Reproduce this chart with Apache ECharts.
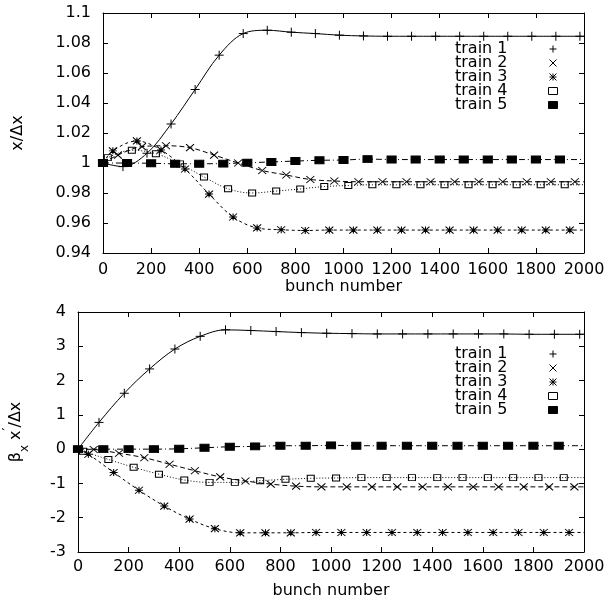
<!DOCTYPE html>
<html>
<head>
<meta charset="utf-8">
<script src="https://cdn.jsdelivr.net/npm/echarts@6/dist/echarts.min.js"></script>
<style>
    html, body { margin: 0; padding: 0; background: #fff; }
    #chart { width: 607px; height: 598px; }
</style>
</head>
<body>
<div id="chart"></div>
<script>
// ---- data ----
var trainNames = ['train 1', 'train 2', 'train 3', 'train 4', 'train 5'];

// tick labels
var bunchTicks = [0, 200, 400, 600, 800, 1000, 1200, 1400, 1600, 1800, 2000];
var topTicks = [0.94, 0.96, 0.98, 1, 1.02, 1.04, 1.06, 1.08, 1.1];
var bottomTicks = [-3, -2, -1, 0, 1, 2, 3, 4];

// bunch numbers where the markers sit (each train is shifted a bit)
var bunch1 = [83, 183, 283, 383, 483, 583, 683, 783, 883, 983, 1083, 1183, 1283, 1383, 1483, 1583, 1683, 1783, 1883, 1983];
var bunch2 = [62, 162, 262, 362, 462, 562, 662, 762, 862, 962, 1062, 1162, 1262, 1362, 1462, 1562, 1662, 1762, 1862, 1962];
var bunch3 = [41, 141, 241, 341, 441, 541, 641, 741, 841, 941, 1041, 1141, 1241, 1341, 1441, 1541, 1641, 1741, 1841, 1941];
var bunch4 = [20, 120, 220, 320, 420, 520, 620, 720, 820, 920, 1020, 1120, 1220, 1320, 1420, 1520, 1620, 1720, 1820, 1920];
var bunch5 = [0, 100, 200, 300, 400, 500, 600, 700, 800, 900, 1000, 1100, 1200, 1300, 1400, 1500, 1600, 1700, 1800, 1900];

// top panel: x / dx
var topStart = 1;
var top1 = [0.9976, 1.0065, 1.026, 1.049, 1.0719, 1.0863, 1.0885, 1.0872, 1.0863, 1.0852, 1.0847, 1.0845, 1.0845, 1.0845, 1.0845, 1.0845, 1.0845, 1.0845, 1.0845, 1.0845];
var top2 = [1.0053, 1.0109, 1.0115, 1.0102, 1.0053, 1.0, 0.995, 0.992, 0.989, 0.988, 0.9875, 0.9875, 0.9875, 0.9875, 0.9875, 0.9875, 0.9875, 0.9875, 0.9875, 0.9875];
var top3 = [1.0081, 1.0147, 1.0087, 0.996, 0.9793, 0.964, 0.9567, 0.9555, 0.955, 0.9553, 0.9553, 0.9553, 0.9553, 0.9553, 0.9553, 0.9553, 0.9553, 0.9553, 0.9553, 0.9553];
var top4 = [1.0036, 1.0085, 1.0062, 0.9994, 0.9907, 0.9828, 0.98, 0.9813, 0.9827, 0.9843, 0.985, 0.9855, 0.9855, 0.9855, 0.9855, 0.9855, 0.9855, 0.9855, 0.9855, 0.9855];
var top5 = [1.0, 1.0, 0.9998, 0.9995, 0.9995, 0.9996, 1.0002, 1.0007, 1.0013, 1.0018, 1.002, 1.0026, 1.0023, 1.0023, 1.0023, 1.0023, 1.0023, 1.0023, 1.0023, 1.0023];

// bottom panel: beta_x x' / dx
var bottomStart = 0;
var bottom1 = [0.78, 1.63, 2.34, 2.92, 3.29, 3.48, 3.46, 3.43, 3.40, 3.38, 3.37, 3.36, 3.36, 3.36, 3.36, 3.36, 3.36, 3.35, 3.35, 3.35];
var bottom2 = [-0.01, -0.12, -0.25, -0.44, -0.63, -0.81, -0.93, -1.02, -1.08, -1.1, -1.1, -1.1, -1.1, -1.1, -1.1, -1.1, -1.1, -1.1, -1.1, -1.1];
var bottom3 = [-0.15, -0.68, -1.2, -1.66, -2.04, -2.32, -2.44, -2.44, -2.44, -2.43, -2.43, -2.43, -2.43, -2.43, -2.43, -2.43, -2.43, -2.43, -2.43, -2.43];
var bottom4 = [-0.06, -0.3, -0.53, -0.73, -0.9, -0.97, -0.97, -0.92, -0.88, -0.85, -0.84, -0.83, -0.83, -0.83, -0.83, -0.83, -0.83, -0.83, -0.83, -0.83];
var bottom5 = [0, 0, 0, 0, 0.01, 0.04, 0.07, 0.08, 0.1, 0.1, 0.11, 0.1, 0.1, 0.1, 0.1, 0.1, 0.1, 0.1, 0.1, 0.1];

(function () {
    'use strict';

    var FONT = 'DejaVu Sans';
    var INK = '#000';

    // gnuplot style point types
    var marks = [
        { symbol: 'path://M0,5L10,5M5,0L5,10', size: [9, 9], fill: INK, dash: 'solid' },
        { symbol: 'path://M0,0L10,10M10,0L0,10', size: [8, 7], fill: INK, dash: [5, 3] },
        { symbol: 'path://M0,0L10,10M10,0L0,10M0,5L10,5M5,0L5,10', size: [8, 7], fill: INK, dash: [3, 3] },
        { symbol: 'rect', size: [7, 6], fill: 'none', dash: [1, 2] },
        { symbol: 'rect', size: [9, 7], fill: INK, dash: [6, 3, 1, 3] }
    ];
    var bunches = [bunch1, bunch2, bunch3, bunch4, bunch5];

    function step(ticks) {
        return ticks[1] - ticks[0];
    }

    function makeSeries(k, vals, start, axisIdx) {
        var bunch = bunches[k];
        var data = [];
        if (bunch[0] !== 0) {
            data.push({ value: [0, start], symbol: 'none' });
        }
        for (var i = 0; i < bunch.length; i++) {
            data.push([bunch[i], vals[i]]);
        }
        data.push({ value: [bunchTicks[bunchTicks.length - 1], vals[vals.length - 1]], symbol: 'none' });
        return {
            name: trainNames[k],
            type: 'line',
            xAxisIndex: axisIdx,
            yAxisIndex: axisIdx,
            smooth: 0.35,
            symbol: marks[k].symbol,
            symbolSize: marks[k].size,
            symbolKeepAspect: false,
            showAllSymbol: true,
            z: 10 - k,
            lineStyle: { color: INK, width: 1, type: marks[k].dash },
            itemStyle: { color: marks[k].fill, borderColor: INK, borderWidth: 1 },
            data: data
        };
    }

    function xAxes(grid, nameGap, labelMargin) {
        var common = {
            gridIndex: grid,
            type: 'value',
            min: bunchTicks[0],
            max: bunchTicks[bunchTicks.length - 1],
            interval: step(bunchTicks),
            splitLine: { show: false },
            axisLine: { onZero: false, lineStyle: { color: INK, width: 1 } },
            axisTick: { inside: true, length: 5, lineStyle: { color: INK } }
        };
        var bottom = Object.assign({}, common, {
            position: 'bottom',
            name: 'bunch number',
            nameLocation: 'middle',
            nameGap: nameGap,
            nameTextStyle: { fontFamily: FONT, fontSize: 16, color: INK },
            axisLabel: {
                margin: labelMargin, fontFamily: FONT, fontSize: 16, color: INK,
                formatter: function (v) { return String(v); }
            }
        });
        var top = Object.assign({}, common, { position: 'top', axisLabel: { show: false } });
        return [bottom, top];
    }

    function yAxes(grid, ticks, name, nameGap, nameStyle) {
        var common = {
            gridIndex: grid,
            type: 'value',
            min: ticks[0],
            max: ticks[ticks.length - 1],
            interval: step(ticks),
            splitLine: { show: false },
            axisLine: { onZero: false, lineStyle: { color: INK, width: 1 } },
            axisTick: { inside: true, length: 5, lineStyle: { color: INK } }
        };
        var left = Object.assign({}, common, {
            position: 'left',
            name: name,
            nameLocation: 'middle',
            nameRotate: 90,
            nameGap: nameGap,
            nameTextStyle: nameStyle,
            axisLabel: { margin: 12, fontFamily: FONT, fontSize: 16, color: INK }
        });
        var right = Object.assign({}, common, { position: 'right', axisLabel: { show: false } });
        return [left, right];
    }

    function legendFor(top) {
        return {
            orient: 'vertical',
            align: 'right',
            right: 47,
            top: top,
            padding: 0,
            itemGap: -2,
            itemWidth: 9,
            itemHeight: 7,
            selectedMode: false,
            textStyle: {
                fontFamily: FONT, fontSize: 16, color: INK,
                lineHeight: 14, padding: [0, 36, 0, 0]
            },
            data: trainNames.map(function (n, k) {
                return {
                    name: n,
                    icon: marks[k].symbol,
                    itemStyle: { color: marks[k].fill, borderColor: INK, borderWidth: 1 }
                };
            })
        };
    }

    var topSets = [top1, top2, top3, top4, top5];
    var bottomSets = [bottom1, bottom2, bottom3, bottom4, bottom5];
    var series = [];
    for (var k = 0; k < 5; k++) {
        series.push(makeSeries(k, topSets[k], topStart, 0));
    }
    for (k = 0; k < 5; k++) {
        series.push(makeSeries(k, bottomSets[k], bottomStart, 2));
    }

    var option = {
        animation: false,
        backgroundColor: '#fff',
        grid: [
            { left: 103, top: 13, width: 481, height: 240, outerBoundsMode: 'none', containLabel: false },
            { left: 78, top: 312, width: 506, height: 240, outerBoundsMode: 'none', containLabel: false }
        ],
        legend: [legendFor(41), legendFor(346)],
        xAxis: xAxes(0, 21, 9).concat(xAxes(1, 31, 7)),
        yAxis: yAxes(0, topTicks, 'x/\u0394x', 77,
            { fontFamily: FONT, fontSize: 16, color: INK }).concat(
            yAxes(1, bottomTicks, '{n|\u03b2}{s|x}{n| x}{p|\u2032}{n|/\u0394x}', 47, {
                fontFamily: FONT, fontSize: 16, color: INK, lineHeight: 30,
                rich: {
                    n: { fontFamily: FONT, fontSize: 16, color: INK, lineHeight: 30 },
                    s: { fontFamily: FONT, fontSize: 12, color: INK, lineHeight: 30, verticalAlign: 'bottom' },
                    p: { fontFamily: FONT, fontSize: 13, color: INK, lineHeight: 30, verticalAlign: 'top' }
                }
            })),
        series: series
    };

    var myChart = echarts.init(document.getElementById('chart'), null, { renderer: 'canvas' });
    myChart.setOption(option);
})();
</script>
</body>
</html>
